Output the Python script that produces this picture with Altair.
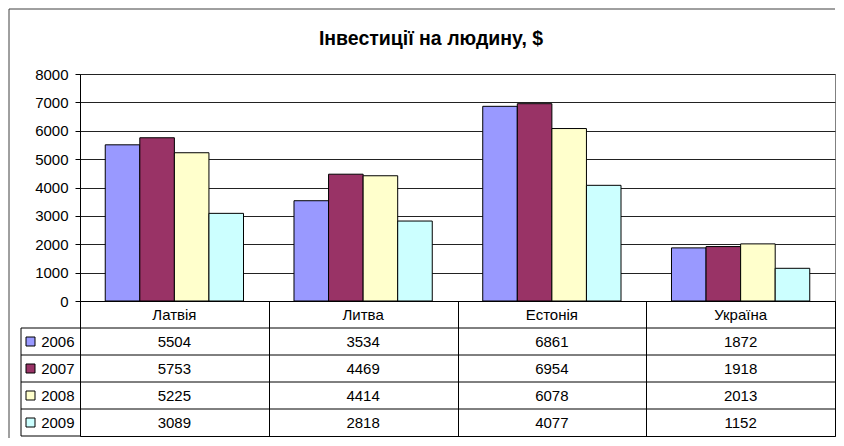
import altair as alt
import pandas as pd

title_text = "Інвестиції на людину, $"
categories = ["Латвія", "Литва", "Естонія", "Україна"]
years = ["2006", "2007", "2008", "2009"]
v2006 = [5504, 3534, 6861, 1872]
v2007 = [5753, 4469, 6954, 1918]
v2008 = [5225, 4414, 6078, 2013]
v2009 = [3089, 2818, 4077, 1152]
colors = ["#9999FF", "#993366", "#FFFFCC", "#CCFFFF"]
y_ticks = [0, 1000, 2000, 3000, 4000, 5000, 6000, 7000, 8000]

series = [v2006, v2007, v2008, v2009]
rows = []
for yr, vals in zip(years, series):
    for c, v in zip(categories, vals):
        rows.append({"country": c, "year": yr, "value": v})
df = pd.DataFrame(rows)

W = 755
H_PLOT = 227
H_TABLE = 135
FONT = "Liberation Sans"
FS = 15

x_scale = alt.Scale(domain=categories, paddingInner=0, paddingOuter=0)
color_scale = alt.Scale(domain=years, range=colors)

bars = alt.Chart(df).mark_bar(stroke="black", strokeWidth=1).encode(
    x=alt.X("country:N", scale=x_scale, sort=categories, axis=None),
    xOffset=alt.XOffset("year:N", sort=years,
                        scale=alt.Scale(domain=years, paddingInner=0, paddingOuter=0.73)),
    y=alt.Y("value:Q", scale=alt.Scale(domain=[0, 8000], nice=False),
            axis=alt.Axis(values=y_ticks, title=None, grid=True, gridColor="#222222",
                          domainColor="black", tickColor="black", tickSize=5,
                          labelPadding=7, labelFontSize=FS, labelFont=FONT,
                          labelColor="black", format="d")),
    color=alt.Color("year:N", scale=color_scale, legend=None),
)

title_mark = alt.Chart(pd.DataFrame({"t": [title_text]})).mark_text(
    fontSize=19.5, fontWeight="bold", font=FONT, align="center",
    baseline="alphabetic", color="black"
).encode(text="t:N", x=alt.value(351), y=alt.value(-29))

one = pd.DataFrame({"k": [0]})
frame_top = alt.Chart(one).mark_rule(color="#404040", strokeWidth=1).encode(
    x=alt.value(-71), x2=alt.value(W), y=alt.value(-65))
frame_left = alt.Chart(one).mark_rule(color="#404040", strokeWidth=1).encode(
    x=alt.value(-71), y=alt.value(-65), y2=alt.value(H_PLOT + H_TABLE + 2))

top = alt.layer(bars, title_mark, frame_top, frame_left).properties(
    width=W, height=H_PLOT, view=alt.ViewBackground(stroke="#808080"))

# data table
row_domain = ["hdr"] + years
trows = [{"country": c, "row": "hdr", "label": c} for c in categories]
for yr, vals in zip(years, series):
    for c, v in zip(categories, vals):
        trows.append({"country": c, "row": yr, "label": str(v)})
tdf = pd.DataFrame(trows)

ty_scale = alt.Scale(domain=row_domain, paddingInner=0, paddingOuter=0)
ty_axis = alt.Axis(title=None, ticks=False, domain=False, grid=False, labelPadding=6,
                   labelFontSize=FS, labelFont=FONT, labelColor="black",
                   labelExpr="datum.value == 'hdr' ? '' : datum.value")

cells = alt.Chart(tdf).mark_text(fontSize=FS, font=FONT, color="black").encode(
    x=alt.X("country:N", scale=x_scale, sort=categories,
            axis=alt.Axis(labels=False, ticks=False, domain=False, grid=True,
                          tickBand="extent", gridColor="black", title=None)),
    y=alt.Y("row:N", scale=ty_scale, sort=row_domain, axis=ty_axis),
    text="label:N",
)

hlines = alt.Chart(pd.DataFrame({"row": years})).mark_rule(color="black").encode(
    y=alt.Y("row:N", bandPosition=0, scale=ty_scale, sort=row_domain, axis=ty_axis),
    x=alt.value(-59), x2=alt.value(W))
bottom_line = alt.Chart(pd.DataFrame({"row": [years[-1]]})).mark_rule(color="black").encode(
    y=alt.Y("row:N", bandPosition=1, scale=ty_scale, sort=row_domain, axis=ty_axis),
    x=alt.value(-59), x2=alt.value(0))
left_line = alt.Chart(pd.DataFrame({"row": [years[0]]})).mark_rule(color="black").encode(
    y=alt.Y("row:N", bandPosition=0, scale=ty_scale, sort=row_domain, axis=ty_axis),
    y2=alt.value(H_TABLE), x=alt.value(-59))
squares = alt.Chart(pd.DataFrame({"row": years})).mark_square(
    size=81, stroke="black", strokeWidth=1, opacity=1).encode(
    y=alt.Y("row:N", scale=ty_scale, sort=row_domain, axis=ty_axis),
    x=alt.value(-49.5),
    color=alt.Color("row:N", scale=color_scale, legend=None))

table = alt.layer(cells, hlines, bottom_line, left_line, squares).properties(
    width=W, height=H_TABLE, view=alt.ViewBackground(stroke="black"))

chart = alt.vconcat(top, table, spacing=0, bounds="flush").properties(
    padding=0, background="white")

chart.save("out.html", embed_options={"renderer": "svg", "actions": False})
